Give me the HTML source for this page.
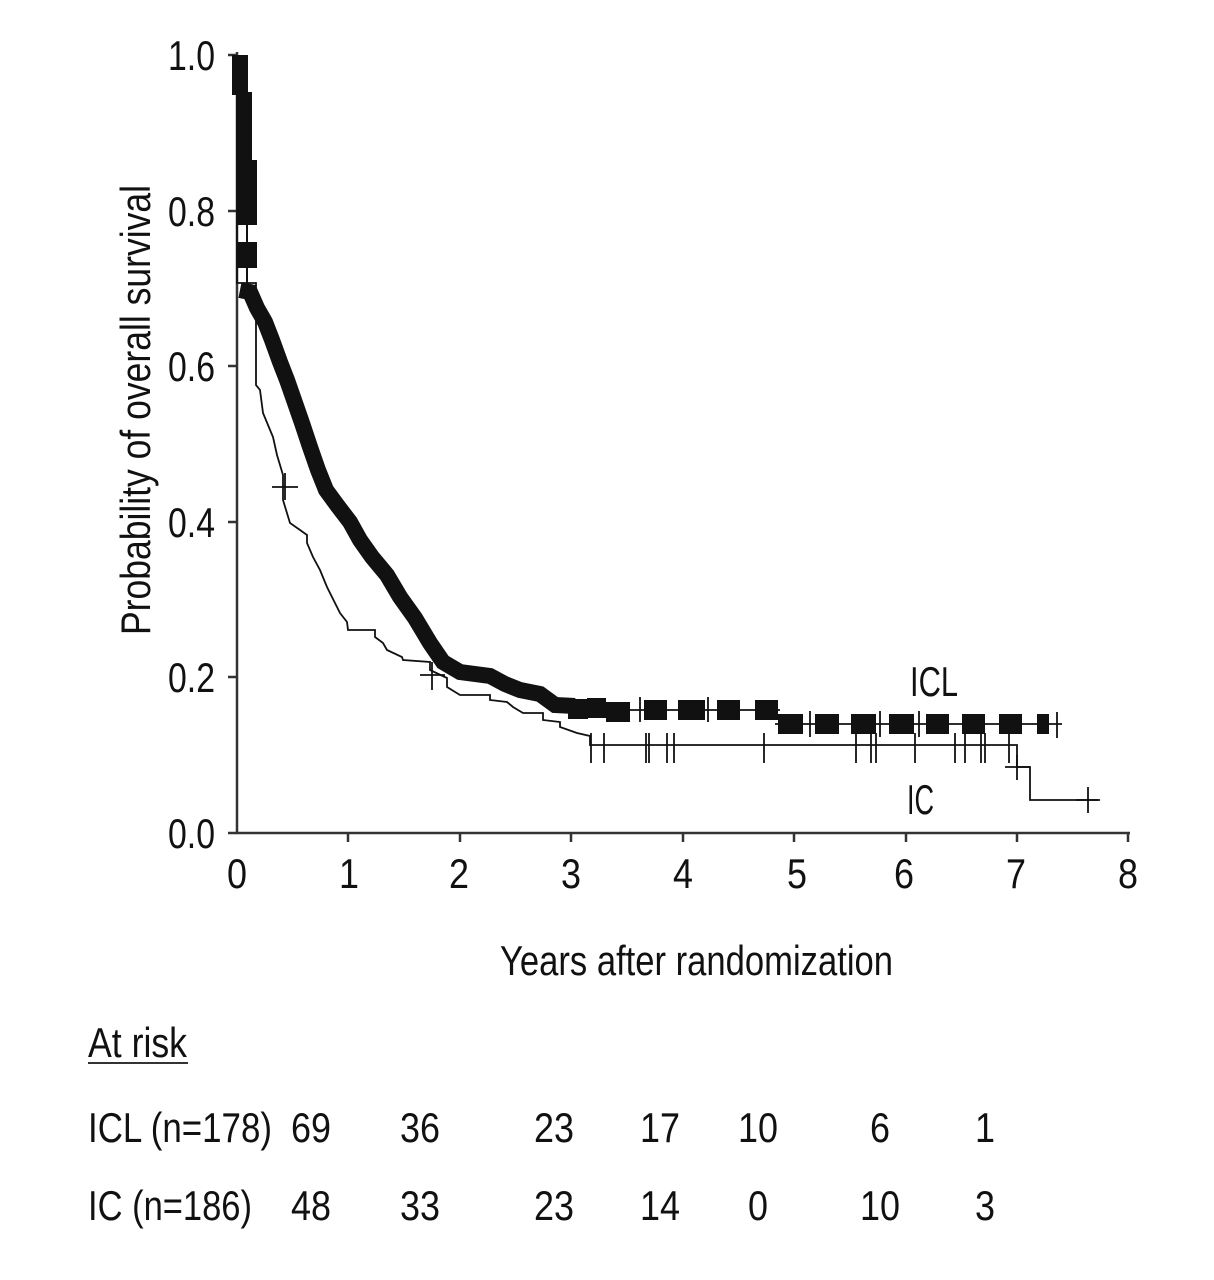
<!DOCTYPE html>
<html><head><meta charset="utf-8"><style>
html,body{margin:0;padding:0;background:#fff;}
svg{display:block;}
text{font-family:"Liberation Sans Narrow","Liberation Sans",sans-serif;fill:#111;}
</style></head><body>
<svg width="1214" height="1280" viewBox="0 0 1214 1280" xmlns="http://www.w3.org/2000/svg">
<g stroke="#333" stroke-width="2.5" fill="none">
<line x1="237" y1="52" x2="237" y2="834"/>
<line x1="236" y1="833" x2="1130" y2="833"/>
<line x1="228" y1="55" x2="237" y2="55"/>
<line x1="228" y1="211" x2="237" y2="211"/>
<line x1="228" y1="366" x2="237" y2="366"/>
<line x1="228" y1="522" x2="237" y2="522"/>
<line x1="228" y1="677" x2="237" y2="677"/>
<line x1="228" y1="833" x2="237" y2="833"/>
<line x1="348" y1="833" x2="348" y2="842"/>
<line x1="460" y1="833" x2="460" y2="842"/>
<line x1="571" y1="833" x2="571" y2="842"/>
<line x1="683" y1="833" x2="683" y2="842"/>
<line x1="794" y1="833" x2="794" y2="842"/>
<line x1="906" y1="833" x2="906" y2="842"/>
<line x1="1017" y1="833" x2="1017" y2="842"/>
<line x1="1128" y1="833" x2="1128" y2="842"/>
</g>
<g font-size="42" lengthAdjust="spacingAndGlyphs">
<text x="168" y="70" textLength="47" lengthAdjust="spacingAndGlyphs">1.0</text>
<text x="168" y="226" textLength="47" lengthAdjust="spacingAndGlyphs">0.8</text>
<text x="168" y="381" textLength="47" lengthAdjust="spacingAndGlyphs">0.6</text>
<text x="168" y="537" textLength="47" lengthAdjust="spacingAndGlyphs">0.4</text>
<text x="168" y="692" textLength="47" lengthAdjust="spacingAndGlyphs">0.2</text>
<text x="168" y="848" textLength="47" lengthAdjust="spacingAndGlyphs">0.0</text>
</g>
<g font-size="42">
<text x="227" y="888" textLength="20" lengthAdjust="spacingAndGlyphs">0</text>
<text x="339" y="888" textLength="20" lengthAdjust="spacingAndGlyphs">1</text>
<text x="449" y="888" textLength="20" lengthAdjust="spacingAndGlyphs">2</text>
<text x="561" y="888" textLength="20" lengthAdjust="spacingAndGlyphs">3</text>
<text x="673" y="888" textLength="20" lengthAdjust="spacingAndGlyphs">4</text>
<text x="787" y="888" textLength="20" lengthAdjust="spacingAndGlyphs">5</text>
<text x="894" y="888" textLength="20" lengthAdjust="spacingAndGlyphs">6</text>
<text x="1006" y="888" textLength="20" lengthAdjust="spacingAndGlyphs">7</text>
<text x="1118" y="888" textLength="20" lengthAdjust="spacingAndGlyphs">8</text>
</g>
<text x="500" y="975" font-size="42" textLength="393" lengthAdjust="spacingAndGlyphs">Years after randomization</text>
<text transform="translate(150,410) rotate(-90)" font-size="42" text-anchor="middle" textLength="450" lengthAdjust="spacingAndGlyphs">Probability of overall survival</text>
<text x="910" y="696" font-size="42" textLength="48" lengthAdjust="spacingAndGlyphs">ICL</text>
<text x="907" y="814" font-size="42" textLength="27" lengthAdjust="spacingAndGlyphs">IC</text>

<polyline fill="none" stroke="#111" stroke-width="1.8" points="237,60 237,283 256,283 256,385 260,390 263,413 273,437 277,455 283,475 283,500 290,523 300,530 307,535 307,543 313,557 320,570 327,587 337,607 340,613 347,622 348,630 375,630 375,637 383,643 387,650 402,657 403,660 430,662 430,670 447,678 447,687 460,695 490,695 490,700 507,702 513,707 523,713 543,713 543,720 560,722 560,727 577,733 590,736 590,745 1017,745 1017,767 1030,767 1030,800 1098,800"/>
<g stroke="#111" stroke-width="1.8">
<line x1="272" y1="487" x2="298" y2="487"/><line x1="285" y1="473" x2="285" y2="500"/>
<line x1="420" y1="675" x2="445" y2="675"/><line x1="432" y1="662" x2="432" y2="690"/>
<line x1="1005" y1="767" x2="1030" y2="767"/><line x1="1017" y1="755" x2="1017" y2="780"/>
<line x1="1076" y1="800" x2="1100" y2="800"/><line x1="1088" y1="787" x2="1088" y2="813"/>
</g>
<g stroke="#111" stroke-width="1.8">
<line x1="591" y1="733" x2="591" y2="763"/><line x1="604" y1="733" x2="604" y2="763"/>
<line x1="646" y1="733" x2="646" y2="763"/><line x1="649" y1="733" x2="649" y2="763"/>
<line x1="667" y1="733" x2="667" y2="763"/><line x1="674" y1="733" x2="674" y2="763"/>
<line x1="764" y1="733" x2="764" y2="763"/><line x1="856" y1="733" x2="856" y2="763"/>
<line x1="871" y1="733" x2="871" y2="763"/><line x1="876" y1="733" x2="876" y2="763"/>
<line x1="915" y1="733" x2="915" y2="763"/><line x1="955" y1="733" x2="955" y2="763"/>
<line x1="965" y1="733" x2="965" y2="763"/><line x1="981" y1="733" x2="981" y2="763"/>
<line x1="985" y1="733" x2="985" y2="763"/><line x1="1009" y1="733" x2="1009" y2="763"/>
</g>

<g fill="#111">
<rect x="232" y="55" width="16" height="40"/>
<rect x="236" y="92" width="16" height="70"/>
<rect x="237" y="160" width="20" height="65"/>
<rect x="237" y="242" width="20" height="26"/>
</g>
<line x1="247" y1="225" x2="247" y2="285" stroke="#111" stroke-width="2"/>
<polyline fill="none" stroke="#111" stroke-width="16" stroke-linejoin="miter" points="240,290 250,292 257,308 265,322 272,340 280,362 287,380 294,400 302,423 310,447 318,470 326,490 337,505 350,522 360,540 372,557 387,575 400,597 415,618 430,643 443,662 460,672 490,676 505,684 520,690 540,694 555,705 575,706"/>
<line x1="575" y1="710" x2="780" y2="710" stroke="#111" stroke-width="1.8"/>
<line x1="775" y1="724" x2="1062" y2="724" stroke="#111" stroke-width="1.8"/>
<g fill="#111">
<rect x="568" y="699" width="20" height="20"/>
<rect x="587" y="698" width="19" height="20"/>
<rect x="606" y="702" width="24" height="20"/>
<rect x="644" y="700" width="23" height="20"/>
<rect x="678" y="700" width="27" height="20"/>
<rect x="717" y="700" width="23" height="20"/>
<rect x="755" y="700" width="23" height="20"/>
<rect x="778" y="714" width="25" height="20"/>
<rect x="815" y="714" width="24" height="20"/>
<rect x="851" y="714" width="25" height="20"/>
<rect x="889" y="714" width="25" height="20"/>
<rect x="926" y="714" width="23" height="20"/>
<rect x="962" y="714" width="23" height="20"/>
<rect x="999" y="714" width="23" height="20"/>
<rect x="1037" y="714" width="12" height="20"/>
</g>
<g stroke="#111" stroke-width="1.8">
<line x1="1057" y1="712" x2="1057" y2="738"/>
<line x1="640" y1="697" x2="640" y2="722"/>
<line x1="708" y1="697" x2="708" y2="722"/>
<line x1="810" y1="711" x2="810" y2="737"/>
<line x1="880" y1="711" x2="880" y2="737"/>
<line x1="919" y1="711" x2="919" y2="737"/>
</g>

<g font-size="42">
<text x="88" y="1057" textLength="99" lengthAdjust="spacingAndGlyphs">At risk</text>
<text x="88" y="1142" textLength="184" lengthAdjust="spacingAndGlyphs">ICL (n=178)</text>
<text x="88" y="1220" textLength="164" lengthAdjust="spacingAndGlyphs">IC (n=186)</text>
</g>
<line x1="88" y1="1063" x2="188" y2="1063" stroke="#333" stroke-width="2"/>
<g font-size="42">
<text x="291" y="1142" textLength="40" lengthAdjust="spacingAndGlyphs">69</text>
<text x="400" y="1142" textLength="40" lengthAdjust="spacingAndGlyphs">36</text>
<text x="534" y="1142" textLength="40" lengthAdjust="spacingAndGlyphs">23</text>
<text x="640" y="1142" textLength="40" lengthAdjust="spacingAndGlyphs">17</text>
<text x="738" y="1142" textLength="40" lengthAdjust="spacingAndGlyphs">10</text>
<text x="870" y="1142" textLength="20" lengthAdjust="spacingAndGlyphs">6</text>
<text x="975" y="1142" textLength="20" lengthAdjust="spacingAndGlyphs">1</text>
<text x="291" y="1220" textLength="40" lengthAdjust="spacingAndGlyphs">48</text>
<text x="400" y="1220" textLength="40" lengthAdjust="spacingAndGlyphs">33</text>
<text x="534" y="1220" textLength="40" lengthAdjust="spacingAndGlyphs">23</text>
<text x="640" y="1220" textLength="40" lengthAdjust="spacingAndGlyphs">14</text>
<text x="748" y="1220" textLength="20" lengthAdjust="spacingAndGlyphs">0</text>
<text x="860" y="1220" textLength="40" lengthAdjust="spacingAndGlyphs">10</text>
<text x="975" y="1220" textLength="20" lengthAdjust="spacingAndGlyphs">3</text>
</g>
</svg>
</body></html>
